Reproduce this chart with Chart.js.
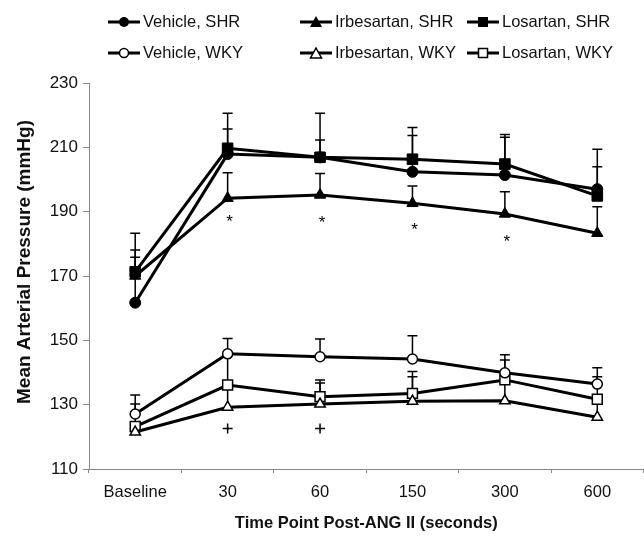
<!DOCTYPE html>
<html lang="en">
<head>
    <meta charset="UTF-8">
    <title>Mean Arterial Pressure</title>
    <script src="https://cdn.jsdelivr.net/npm/chart.js"></script>
    <style>
        body { margin: 0; overflow: hidden; background: #fff; }
        #wrap { position: relative; width: 652px; height: 539px; }
        .lg { position: absolute; display: flex; align-items: center; font: 16.5px "Liberation Sans", Arial, sans-serif; color: #111; white-space: nowrap; }
        .lg svg { margin-right: 3px; }
    </style>
</head>
<body>

<div id="wrap">
    <canvas id="myChart" width="652" height="539"></canvas>
    <div class="lg" style="left:108px; top:12px;">
        <svg width="32" height="14"><line x1="0" y1="7" x2="32" y2="7" stroke="#000" stroke-width="3"/><circle cx="16" cy="7" r="5" fill="#000"/></svg>Vehicle, SHR
    </div>
    <div class="lg" style="left:300px; top:12px;">
        <svg width="32" height="14"><line x1="0" y1="7" x2="32" y2="7" stroke="#000" stroke-width="3"/><polygon points="16,1 22,12 10,12" fill="#000"/></svg>Irbesartan, SHR
    </div>
    <div class="lg" style="left:467px; top:12px;">
        <svg width="32" height="14"><line x1="0" y1="7" x2="32" y2="7" stroke="#000" stroke-width="3"/><rect x="11" y="2" width="10" height="10" fill="#000"/></svg>Losartan, SHR
    </div>
    <div class="lg" style="left:108px; top:43px;">
        <svg width="32" height="14"><line x1="0" y1="7" x2="32" y2="7" stroke="#000" stroke-width="3"/><circle cx="16" cy="7" r="4.5" fill="#fff" stroke="#000" stroke-width="1.5"/></svg>Vehicle, WKY
    </div>
    <div class="lg" style="left:300px; top:43px;">
        <svg width="32" height="14"><line x1="0" y1="7" x2="32" y2="7" stroke="#000" stroke-width="3"/><polygon points="16,2 21.5,12 10.5,12" fill="#fff" stroke="#000" stroke-width="1.5"/></svg>Irbesartan, WKY
    </div>
    <div class="lg" style="left:467px; top:43px;">
        <svg width="32" height="14"><line x1="0" y1="7" x2="32" y2="7" stroke="#000" stroke-width="3"/><rect x="11.5" y="2.5" width="9" height="9" fill="#fff" stroke="#000" stroke-width="1.5"/></svg>Losartan, WKY
    </div>
</div>

<script>
    // values
    var categories = ['Baseline', '30', '60', '150', '300', '600'];

    var vehicleSHR      = [161.7, 207.9, 206.9, 202.4, 201.4, 197.0];
    var vehicleSHRErr   = [14.1, 7.8, 13.7, 11.3, 11.7, 12.4];
    var irbesartanSHR   = [170.0, 194.2, 195.2, 192.6, 189.3, 183.3];
    var irbesartanSHRErr = [8.1, 7.9, 6.7, 5.4, 6.9, 8.2];
    var losartanSHR     = [171.3, 209.7, 206.9, 206.3, 204.8, 194.9];
    var losartanSHRErr  = [12.0, 10.9, 5.4, 9.9, 9.2, 9.1];

    var vehicleWKY      = [127.1, 145.8, 144.9, 144.2, 139.9, 136.4];
    var vehicleWKYErr   = [5.9, 4.8, 5.5, 7.2, 4.0, 5.1];
    var irbesartanWKY   = [121.5, 129.2, 130.2, 131.1, 131.2, 126.1];
    var irbesartanWKYErr = [2.0, 6.0, 6.5, 7.6, 6.0, 5.0];
    var losartanWKY     = [123.2, 136.1, 132.5, 133.5, 137.7, 131.7];
    var losartanWKYErr  = [7.0, 9.0, 5.2, 6.8, 7.8, 7.0];

    // significance marks (position on the y axis)
    var asteriskY = [null, 188.0, 187.7, 185.5, 181.8, null];
    var plusY     = [null, 122.6, 122.6, null, null, null];

    var yTicks = [110, 130, 150, 170, 190, 210, 230];
    var yTitle = 'Mean Arterial Pressure (mmHg)';

    var FONT = '"Liberation Sans", Arial, sans-serif';

    function series(label, data, errs, style, radius, filled) {
        return {
            label: label,
            data: data,
            errs: errs,
            borderColor: '#000',
            borderWidth: 3,
            pointStyle: style,
            pointRadius: radius,
            pointBackgroundColor: filled ? '#000' : '#fff',
            pointBorderColor: '#000',
            pointBorderWidth: filled ? 1 : 1.5,
            tension: 0
        };
    }

    var errorBars = {
        id: 'errorBars',
        beforeDatasetsDraw: function(chart) {
            var ctx = chart.ctx;
            var x = chart.scales.x, y = chart.scales.y;
            ctx.save();
            ctx.strokeStyle = '#000';
            ctx.lineWidth = 1.5;
            chart.data.datasets.forEach(function(ds) {
                if (!ds.errs) return;
                ds.data.forEach(function(v, i) {
                    if (v === null) return;
                    var px = x.getPixelForValue(i);
                    var p0 = y.getPixelForValue(v);
                    var p1 = y.getPixelForValue(v + ds.errs[i]);
                    ctx.beginPath();
                    ctx.moveTo(px, p0);
                    ctx.lineTo(px, p1);
                    ctx.moveTo(px - 5, p1);
                    ctx.lineTo(px + 5, p1);
                    ctx.stroke();
                });
            });
            ctx.restore();
        }
    };

    var annotations = {
        id: 'annotations',
        afterDatasetsDraw: function(chart) {
            var ctx = chart.ctx;
            var x = chart.scales.x, y = chart.scales.y;
            ctx.save();
            ctx.fillStyle = '#000';
            ctx.font = '17px ' + FONT;
            ctx.textAlign = 'center';
            ctx.textBaseline = 'middle';
            asteriskY.forEach(function(v, i) {
                if (v === null) return;
                ctx.fillText('*', x.getPixelForValue(i) + 2, y.getPixelForValue(v) + 4);
            });
            ctx.restore();
        },
        afterDraw: function(chart) {
            // y title sits a bit above the middle of the axis in the figure
            var ctx = chart.ctx;
            ctx.save();
            ctx.translate(25, 262);
            ctx.rotate(-Math.PI / 2);
            ctx.fillStyle = '#111';
            ctx.font = 'bold 19px ' + FONT;
            ctx.textAlign = 'center';
            ctx.textBaseline = 'middle';
            ctx.fillText(yTitle, 0, 0);
            ctx.restore();
        }
    };

    var ctx = document.getElementById('myChart').getContext('2d');
    var myChart = new Chart(ctx, {
        type: 'line',
        data: {
            labels: categories,
            datasets: [
                series('Vehicle, SHR', vehicleSHR, vehicleSHRErr, 'circle', 5.5, true),
                series('Irbesartan, SHR', irbesartanSHR, irbesartanSHRErr, 'triangle', 6.5, true),
                series('Losartan, SHR', losartanSHR, losartanSHRErr, 'rect', 7.5, true),
                series('Vehicle, WKY', vehicleWKY, vehicleWKYErr, 'circle', 5, false),
                series('Irbesartan, WKY', irbesartanWKY, irbesartanWKYErr, 'triangle', 6, false),
                series('Losartan, WKY', losartanWKY, losartanWKYErr, 'rect', 7, false),
                {
                    label: 'plus',
                    data: plusY,
                    showLine: false,
                    pointStyle: 'cross',
                    pointRadius: 5,
                    pointBorderWidth: 1.5,
                    pointBorderColor: '#000'
                }
            ]
        },
        options: {
            responsive: false,
            animation: false,
            layout: { padding: { top: 83, right: 4, left: 0, bottom: 0 } },
            plugins: {
                legend: { display: false },
                tooltip: { enabled: false }
            },
            scales: {
                x: {
                    offset: true,
                    grid: { offset: true, drawOnChartArea: false, tickLength: 4, color: '#888' },
                    border: { color: '#888', width: 1 },
                    ticks: { color: '#111', font: { family: FONT, size: 16.5 }, padding: 10 },
                    title: {
                        display: true,
                        text: 'Time Point Post-ANG II (seconds)',
                        color: '#111',
                        font: { family: FONT, size: 16.5, weight: 'bold' },
                        padding: { top: 4, bottom: 6 }
                    },
                    afterFit: function(scale) { scale.height = 70; }
                },
                y: {
                    min: 110,
                    max: 230,
                    afterBuildTicks: function(scale) {
                        scale.ticks = yTicks.map(function(v) { return { value: v }; });
                    },
                    grid: { drawOnChartArea: false, tickLength: 6, color: '#888' },
                    border: { color: '#888', width: 1 },
                    ticks: { color: '#111', font: { family: FONT, size: 17 }, padding: 5 },
                    afterFit: function(scale) { scale.width = 89; }
                }
            }
        },
        plugins: [errorBars, annotations]
    });
    myChart.canvas.style.display = 'block';
</script>

</body>
</html>
